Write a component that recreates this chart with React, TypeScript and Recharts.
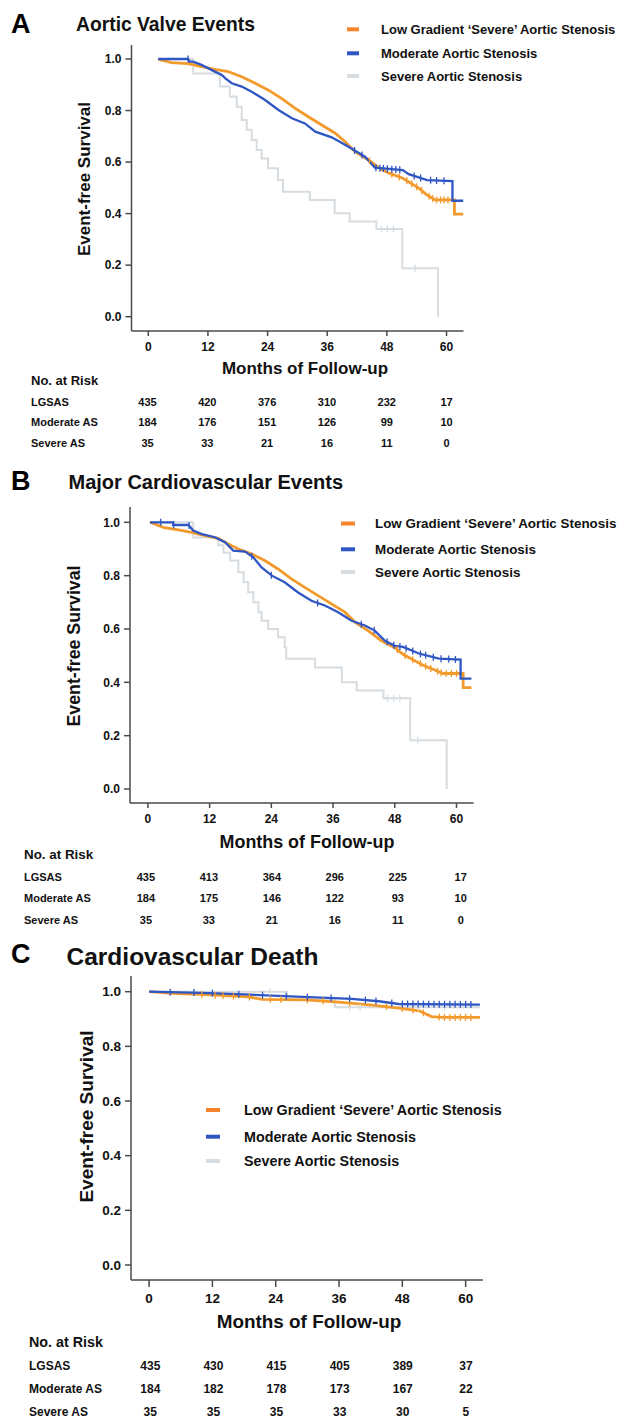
import React from 'react';
import { ComposedChart, Line, Scatter, XAxis, YAxis } from 'recharts';

type Pt = [number, number];

// shared labels
const months = [0, 12, 24, 36, 48, 60];
const survivalTicks = [0, 0.2, 0.4, 0.6, 0.8, 1.0];
const groupNames = ['Low Gradient \u2018Severe\u2019 Aortic Stenosis', 'Moderate Aortic Stenosis', 'Severe Aortic Stenosis'];
const riskLabels = ['LGSAS', 'Moderate AS', 'Severe AS'];

// A: aortic valve events (month, survival)
const valveLgsas: Pt[] = [[2, 1.0], [2.5, 0.996], [4.7, 0.986], [8, 0.982], [10.7, 0.970], [13.4, 0.960], [16.1, 0.951], [18.8, 0.931], [21.5, 0.906], [24.1, 0.880], [26.8, 0.847], [29.5, 0.809], [32.2, 0.776], [34.9, 0.744], [37.6, 0.712], [39.6, 0.679], [41.6, 0.640], [44.3, 0.608], [47, 0.570], [48.6, 0.556], [51.2, 0.537], [54.5, 0.498], [56.1, 0.472], [57.7, 0.453], [61.6, 0.453], [61.6, 0.398], [63.4, 0.398]];
const valveModerate: Pt[] = [[2, 1.0], [8, 1.0], [8.3, 0.99], [9, 0.99], [10.7, 0.977], [13.4, 0.951], [14.8, 0.938], [15.5, 0.925], [16.8, 0.906], [18.8, 0.893], [20.8, 0.873], [23.5, 0.841], [26.2, 0.802], [28.9, 0.770], [31.5, 0.750], [33.6, 0.718], [36.9, 0.696], [40.2, 0.660], [43.6, 0.621], [45.6, 0.578], [51.2, 0.569], [52.4, 0.553], [56.1, 0.530], [61.2, 0.526], [61.2, 0.45], [63.4, 0.45]];
const valveSevere: Pt[] = [[2, 1.0], [9.05, 0.944], [14.4, 0.893], [16.4, 0.854], [17.8, 0.815], [18.8, 0.763], [19.8, 0.725], [20.8, 0.686], [21.8, 0.647], [22.8, 0.614], [24.1, 0.576], [26.1, 0.530], [27.1, 0.485], [32.5, 0.453], [37.5, 0.401], [40.5, 0.369], [45.9, 0.340], [51.1, 0.188], [58.3, 0.0]];
const valveCensorLgsas = [44.5, 49, 50.5, 52, 53, 54, 55, 56.5, 57.2, 58, 58.8, 59.5, 60.3];
const valveCensorModerate = [8, 41.5, 43, 45.8, 46.6, 47.3, 48.1, 49, 49.8, 50.6, 53.5, 54.8, 56.8, 58, 59.5];
const valveCensorSevere = [46.9, 48.1, 49.3, 53.7];
const valveRiskLgsas = [435, 420, 376, 310, 232, 17];
const valveRiskModerate = [184, 176, 151, 126, 99, 10];
const valveRiskSevere = [35, 33, 21, 16, 11, 0];

// B: major cardiovascular events
const maceLgsas: Pt[] = [[0.4, 1.0], [3.0, 0.981], [5.9, 0.972], [8.5, 0.962], [11.1, 0.950], [13.7, 0.940], [15.6, 0.919], [17.6, 0.900], [20.2, 0.881], [22.8, 0.856], [25.3, 0.825], [27.9, 0.788], [30.5, 0.756], [33.1, 0.725], [35.7, 0.694], [38.3, 0.663], [40.3, 0.625], [42.8, 0.594], [45.4, 0.556], [48.0, 0.530], [49.6, 0.505], [53.5, 0.464], [55.9, 0.445], [57.4, 0.433], [61.3, 0.433], [61.3, 0.380], [62.9, 0.380]];
const maceModerate: Pt[] = [[0.4, 1.0], [4.9, 1.0], [4.9, 0.99], [7.9, 0.99], [8.8, 0.969], [10.5, 0.956], [13.0, 0.944], [15.0, 0.925], [16.6, 0.894], [18.9, 0.890], [20.5, 0.869], [22.1, 0.831], [24.1, 0.800], [26.6, 0.775], [29.2, 0.737], [31.8, 0.706], [34.4, 0.688], [37.0, 0.663], [39.6, 0.631], [42.2, 0.613], [44.1, 0.594], [46.1, 0.556], [48.0, 0.537], [49.6, 0.533], [52.7, 0.508], [56.6, 0.489], [60.8, 0.485], [60.8, 0.414], [62.9, 0.414]];
const maceSevere: Pt[] = [[0.4, 1.0], [8.8, 0.943], [13.7, 0.914], [14.7, 0.886], [16.0, 0.857], [17.6, 0.813], [18.6, 0.775], [19.5, 0.738], [20.5, 0.700], [21.5, 0.663], [22.1, 0.631], [23.4, 0.600], [25.3, 0.569], [26.6, 0.531], [26.9, 0.488], [32.5, 0.456], [37.7, 0.400], [40.6, 0.369], [45.8, 0.340], [51.0, 0.183], [58.1, 0.0]];
const maceCensorLgsas = [48.5, 50, 51.5, 53, 54, 55, 56.3, 57, 58, 59, 60];
const maceCensorModerate = [2.5, 5, 8, 20.2, 24, 33, 41.5, 44, 46.5, 47.8, 49, 50.2, 51.5, 53, 54, 55.5, 57, 58.5, 59.8];
const maceCensorSevere = [46.6, 47.8, 49, 52.5];
const maceRiskLgsas = [435, 413, 364, 296, 225, 17];
const maceRiskModerate = [184, 175, 146, 122, 93, 10];
const maceRiskSevere = [35, 33, 21, 16, 11, 0];

// C: cardiovascular death
const deathLgsas: Pt[] = [[0, 1.0], [4.3, 0.994], [10.6, 0.989], [18.8, 0.981], [21.4, 0.972], [29.6, 0.970], [35.9, 0.962], [42.3, 0.951], [47.3, 0.940], [51.2, 0.930], [53.5, 0.909], [55.8, 0.906], [62.7, 0.906]];
const deathModerate: Pt[] = [[0, 1.0], [10, 0.996], [18, 0.99], [28, 0.982], [38.4, 0.974], [43.5, 0.965], [47.3, 0.955], [62.7, 0.953]];
const deathSevere: Pt[] = [[0, 1.0], [26.1, 0.971], [35.2, 0.943], [62.7, 0.943]];
const deathCensorLgsas = [10, 12.5, 14, 16, 19, 23, 25, 30, 33, 38, 45, 48, 50, 52, 55, 56, 57, 58, 59, 60, 61];
const deathCensorModerate = [4, 8.5, 12, 17, 21.5, 26, 30, 34.5, 38, 41, 43, 46, 48, 49, 50, 51, 52, 53, 54, 55, 56, 57, 58, 59, 60, 61];
const deathCensorSevere = [22.9, 38, 40, 51, 56];
const deathRiskLgsas = [435, 430, 415, 405, 389, 37];
const deathRiskModerate = [184, 182, 178, 173, 167, 22];
const deathRiskSevere = [35, 35, 35, 33, 30, 5];

const FONT = "'Liberation Sans', Arial, Helvetica, sans-serif";
const AXIS = '#4a4a4a';
const lineColors = ['#F39A2C', '#2F56C3', '#D6DCE0'];
const lineWidths = [2.8, 2.3, 2];
const swatchColors = ['#F5842C', '#2F56C3', '#D6DCE0'];

const valueAt = (pts: Pt[], t: number, step: boolean) => {
  let v = pts[0][1];
  for (let i = 0; i < pts.length; i++) {
    const [m, s] = pts[i];
    if (m <= t) v = s;
    else {
      if (!step && i > 0) {
        const [m0, s0] = pts[i - 1];
        if (m > m0) v = s0 + ((t - m0) / (m - m0)) * (s - s0);
      }
      break;
    }
  }
  return v;
};

const panels = [
  {
    letter: 'A', title: 'Aortic Valve Events',
    curves: [valveLgsas, valveModerate, valveSevere],
    censors: [valveCensorLgsas, valveCensorModerate, valveCensorSevere],
    risk: [valveRiskLgsas, valveRiskModerate, valveRiskSevere],
    plot: { left: 131.5, right: 463.5, top: 45, bottom: 331 },
    xDomain: [-3.38, 63.42], yDomain: [-0.0555, 1.0543],
    tickFont: 12, tickSize: 5, xTickMargin: 6,
    letterPos: [11, 23.5, 27], titlePos: [76, 24, 19.3],
    legend: { x1: 347, x2: 359, tx: 381, ys: [29.3, 53.3, 76], font: 13 },
    yTitle: [84, 179, 17], xTitle: [305, 368, 17],
    riskHead: [31, 380, 13], riskRows: [401.7, 422.3, 443.3], riskFont: 11, riskCols: [147.5, 4.985],
  },
  {
    letter: 'B', title: 'Major Cardiovascular Events',
    curves: [maceLgsas, maceModerate, maceSevere],
    censors: [maceCensorLgsas, maceCensorModerate, maceCensorSevere],
    risk: [maceRiskLgsas, maceRiskModerate, maceRiskSevere],
    plot: { left: 130, right: 473.6, top: 506.7, bottom: 802.7 },
    xDomain: [-3.48, 63.33], yDomain: [-0.0525, 1.0574],
    tickFont: 12, tickSize: 5, xTickMargin: 6,
    letterPos: [11, 481, 27], titlePos: [68.5, 482, 20],
    legend: { x1: 341, x2: 355, tx: 375, ys: [523.5, 549.3, 572], font: 13.4 },
    yTitle: [73.5, 646, 17.8], xTitle: [307, 841.7, 17.9],
    riskHead: [24, 854, 13.4], riskRows: [876.7, 898.3, 920], riskFont: 11, riskCols: [145.9, 5.247],
  },
  {
    letter: 'C', title: 'Cardiovascular Death',
    curves: [deathLgsas, deathModerate, deathSevere],
    censors: [deathCensorLgsas, deathCensorModerate, deathCensorSevere],
    risk: [deathRiskLgsas, deathRiskModerate, deathRiskSevere],
    plot: { left: 131, right: 482.9, top: 976, bottom: 1280 },
    xDomain: [-3.43, 63.27], yDomain: [-0.0549, 1.0574],
    tickFont: 13.5, tickSize: 7, xTickMargin: 6,
    letterPos: [11, 954, 27], titlePos: [66.5, 956, 24.5],
    legend: { x1: 206, x2: 220, tx: 244, ys: [1110, 1136.7, 1161], font: 14.3 },
    yTitle: [86.5, 1116.5, 19], xTitle: [309, 1321, 18.9],
    riskHead: [29, 1342.3, 14.3], riskRows: [1365.7, 1389, 1411.7], riskFont: 12, riskCols: [150.3, 5.26],
  },
];

const CensorTick = (color: string) => (props: any) => {
  const { cx, cy } = props;
  if (cx == null || cy == null) return <g />;
  return <line x1={cx} x2={cx} y1={cy - 3.5} y2={cy + 3.5} stroke={color} strokeWidth={1.3} />;
};

const drawOrder = [2, 0, 1];

function Panel({ cfg }: { cfg: any }) {
  const { plot } = cfg;
  const mt = 5;
  const xh = 36;
  const h = mt + (plot.bottom - plot.top) + xh;
  const tickStyle = { fill: '#111', fontSize: cfg.tickFont, fontWeight: 700, fontFamily: FONT };
  return (
    <div style={{ position: 'absolute', left: 0, top: plot.top - mt }}>
      <ComposedChart width={632} height={h} margin={{ top: mt, right: 632 - plot.right, bottom: 0, left: 0 }}>
        <XAxis
          type="number"
          dataKey="m"
          domain={cfg.xDomain}
          ticks={months}
          interval={0}
          allowDataOverflow
          height={xh}
          tickSize={cfg.tickSize}
          tickMargin={cfg.xTickMargin}
          axisLine={{ stroke: AXIS, strokeWidth: 1.5 }}
          tickLine={{ stroke: AXIS, strokeWidth: 1.5 }}
          tick={tickStyle}
        />
        <YAxis
          type="number"
          dataKey="s"
          domain={cfg.yDomain}
          ticks={survivalTicks}
          interval={0}
          allowDataOverflow
          width={plot.left}
          tickSize={6}
          tickMargin={4}
          tickFormatter={(v: number) => v.toFixed(1)}
          axisLine={{ stroke: AXIS, strokeWidth: 1.5 }}
          tickLine={{ stroke: AXIS, strokeWidth: 1.5 }}
          tick={tickStyle}
        />
        {drawOrder.map((i) => (
          <Line
            key={'l' + i}
            data={cfg.curves[i].map(([m, s]: Pt) => ({ m, s }))}
            dataKey="s"
            type={i === 2 ? 'stepAfter' : 'linear'}
            stroke={lineColors[i]}
            strokeWidth={lineWidths[i]}
            dot={false}
            activeDot={false}
            isAnimationActive={false}
          />
        ))}
        {drawOrder.map((i) => (
          <Scatter
            key={'c' + i}
            data={cfg.censors[i].map((t: number) => ({ m: t, s: valueAt(cfg.curves[i], t, i === 2) }))}
            dataKey="s"
            shape={CensorTick(lineColors[i])}
            isAnimationActive={false}
          />
        ))}
      </ComposedChart>
    </div>
  );
}

function Annotations({ cfg }: { cfg: any }) {
  const bold = { fontFamily: FONT, fontWeight: 700, fill: '#111' } as const;
  const lg = cfg.legend;
  return (
    <g>
      <text x={cfg.letterPos[0]} y={cfg.letterPos[1]} fontSize={cfg.letterPos[2]} dominantBaseline="central" {...bold} fill="#000">{cfg.letter}</text>
      <text x={cfg.titlePos[0]} y={cfg.titlePos[1]} fontSize={cfg.titlePos[2]} dominantBaseline="central" {...bold}>{cfg.title}</text>
      {groupNames.map((name, i) => (
        <g key={name}>
          <line x1={lg.x1} x2={lg.x2} y1={lg.ys[i]} y2={lg.ys[i]} stroke={swatchColors[i]} strokeWidth={4} />
          <text x={lg.tx} y={lg.ys[i]} fontSize={lg.font} dominantBaseline="central" {...bold}>{name}</text>
        </g>
      ))}
      <text
        x={cfg.yTitle[0]}
        y={cfg.yTitle[1]}
        fontSize={cfg.yTitle[2]}
        textAnchor="middle"
        dominantBaseline="central"
        transform={`rotate(-90 ${cfg.yTitle[0]} ${cfg.yTitle[1]})`}
        {...bold}
      >
        Event-free Survival
      </text>
      <text x={cfg.xTitle[0]} y={cfg.xTitle[1]} fontSize={cfg.xTitle[2]} textAnchor="middle" dominantBaseline="central" {...bold}>
        Months of Follow-up
      </text>
      <text x={cfg.riskHead[0]} y={cfg.riskHead[1]} fontSize={cfg.riskHead[2]} dominantBaseline="central" {...bold}>No. at Risk</text>
      {riskLabels.map((label, r) => (
        <g key={label}>
          <text x={cfg.riskHead[0]} y={cfg.riskRows[r]} fontSize={cfg.riskFont} dominantBaseline="central" {...bold}>{label}</text>
          {cfg.risk[r].map((n: number, k: number) => (
            <text
              key={k}
              x={cfg.riskCols[0] + months[k] * cfg.riskCols[1]}
              y={cfg.riskRows[r]}
              fontSize={cfg.riskFont}
              textAnchor="middle"
              dominantBaseline="central"
              {...bold}
            >
              {n}
            </text>
          ))}
        </g>
      ))}
    </g>
  );
}

export default function App() {
  return (
    <div style={{ position: 'absolute', left: 0, top: 0, width: 632, height: 1419, background: '#fff', overflow: 'hidden' }}>
      {panels.map((cfg) => (
        <Panel key={cfg.letter} cfg={cfg} />
      ))}
      <svg width={632} height={1419} style={{ position: 'absolute', left: 0, top: 0, pointerEvents: 'none' }}>
        {panels.map((cfg) => (
          <Annotations key={cfg.letter} cfg={cfg} />
        ))}
      </svg>
    </div>
  );
}
